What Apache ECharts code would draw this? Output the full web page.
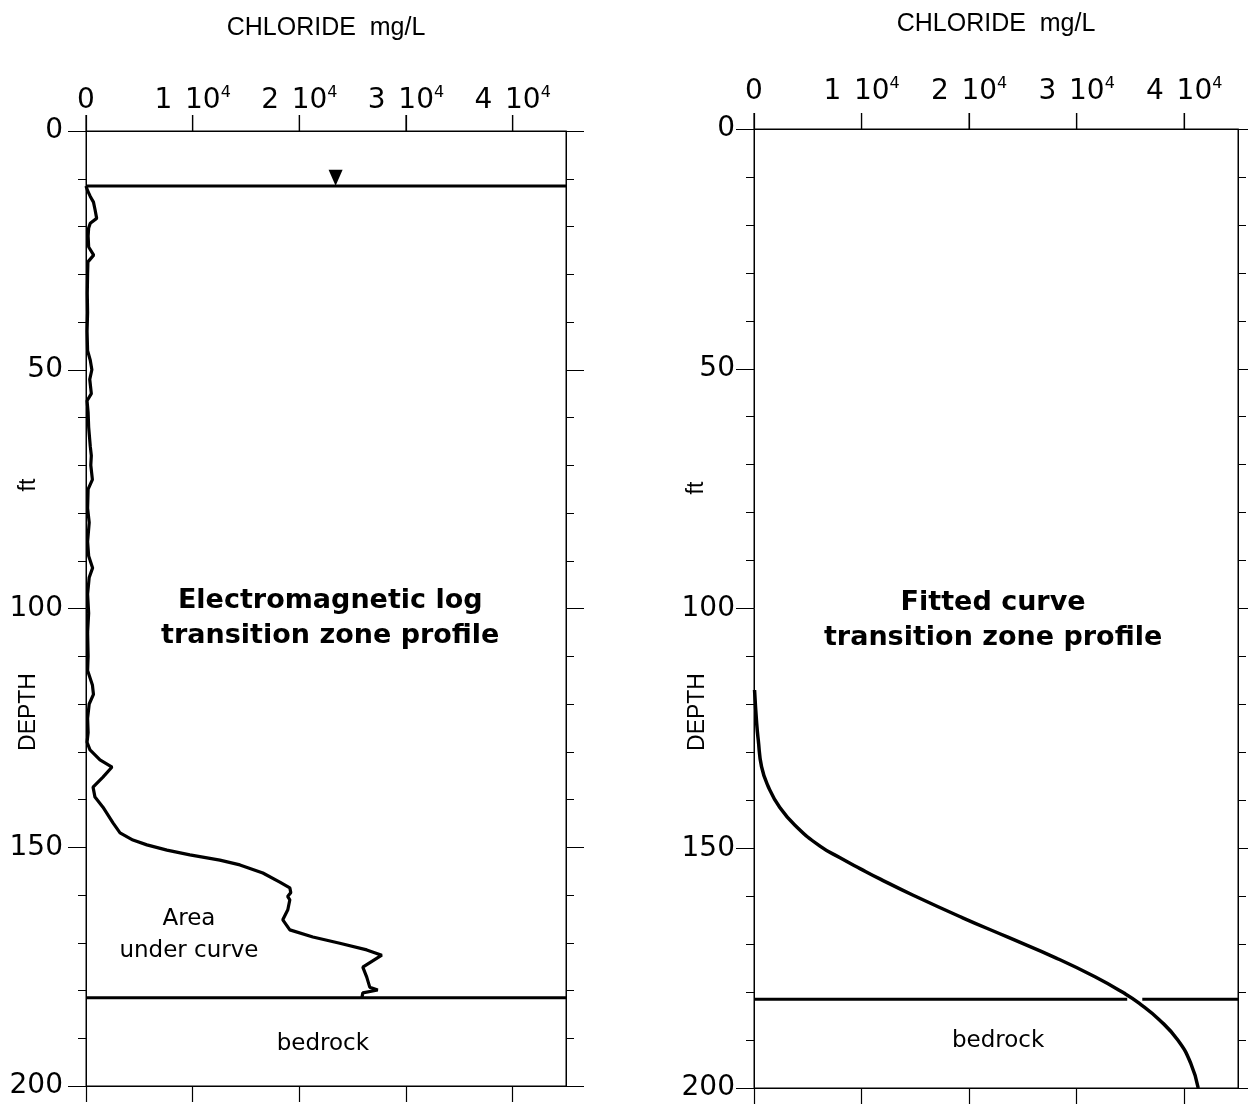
<!DOCTYPE html>
<html>
<head>
<meta charset="utf-8">
<script src="https://cdn.jsdelivr.net/npm/echarts@6.0.0/dist/echarts.min.js"></script>
<style>
  html, body { margin: 0; padding: 0; background: #fff; }
  #chart { width: 1248px; height: 1108px; }
</style>
</head>
<body>
<div id="chart"></div>
<script>
// Chloride vs depth: EM log profile (left) and fitted curve (right).
const depthTicks = [0, 50, 100, 150, 200];
const chlorideTicks = [0, 10000, 20000, 30000, 40000];
const chlorideMax = 45000;

const waterTableDepth = 11.5;
const waterTableMark = [23400, 9.8];
const bedrockDepth = 181.5;
const bedrockGap = [34700, 36100]; // break in the right bedrock line where the curve crosses

// Electromagnetic log
const emDepth = [
  11.5, 12.5, 13.7, 14.9, 16.5, 18.3, 19.3, 20.3, 22, 24.3, 26, 27.4, 30, 34, 38, 42, 46,
  48, 50, 52, 55, 56.5, 59, 62, 66, 68, 70, 73, 75, 79, 82, 86, 89, 91.5, 93.5, 97, 101,
  105, 110, 113, 116, 118, 120, 123, 126, 128, 129.6, 131.7, 133.2, 135.3, 137.4, 139.5,
  141.6, 144.9, 147.0, 148.5, 149.5, 150.6, 151.6, 152.7, 153.7, 155.4, 157.3, 158.5,
  159.5, 160.3, 161.0, 163.1, 165.2, 167.3, 168.8, 170.1, 171.5, 172.6, 175.1, 177.2,
  179.3, 179.9, 180.5, 181.6
];
const emChloride = [
  0, 150, 400, 700, 850, 1000, 400, 250, 200, 250, 720, 180, 150, 120, 150, 100, 150,
  400, 550, 350, 500, 100, 200, 250, 400, 500, 450, 600, 200, 150, 300, 150, 250, 620, 300, 150, 250,
  150, 200, 150, 600, 700, 300, 150, 200, 100, 375, 1310, 2440, 1590, 660, 840,
  1590, 2530, 3190, 4400, 5710, 7590, 9740, 12550, 14430, 16580, 18170, 19110,
  19200, 18900, 19110, 18920, 18450, 19110, 21270, 23790, 26320, 27730, 25950, 26320,
  26600, 27350, 25950, 25860
];

// Fitted curve
const fitDepth = [117, 124, 127.5, 133, 137, 141.5, 145.6, 149.5, 152, 154.3, 156.4, 159.8,
  164.5, 168.5, 172.9, 176.8, 180.2, 182.3, 185.8, 190, 194.8, 200];
const fitChloride = [50, 250, 400, 700, 1300, 2400, 4000, 6100, 8000, 9900, 11700, 14800,
  19400, 23550, 28100, 31700, 34400, 35800, 37700, 39400, 40600, 41300];

// Annotations: [chloride, depth, text]
const leftNotes = [
  [22900, 102, '{b|Electromagnetic log\ntransition zone profile}'],
  [9650, 168.4, '{r|Area\nunder curve}'],
  [22200, 191.2, '{r|bedrock}']
];
const rightNotes = [
  [22230, 102.4, '{b|Fitted curve\ntransition zone profile}'],
  [22700, 190.2, '{r|bedrock}']
];

const INK = '#000';
const numFont = 'DejaVu Sans';
const sansFont = 'Liberation Sans';

function pairs(xs, ys) { return xs.map((x, i) => [x, ys[i]]); }

function chlorideLabel(v) {
  if (!chlorideTicks.includes(v)) return '';
  return v === 0 ? '{m|0}' : `{m|${v / 10000}}{g| }{m|10}{s|4}`;
}

function xAxes(gridIndex, labelMargin, nameGap) {
  const base = {
    type: 'value', gridIndex, min: 0, max: chlorideMax, interval: 10000,
    splitLine: { show: false },
    axisLine: { show: true, onZero: false, lineStyle: { color: INK, width: 1 } },
    axisTick: { show: true, length: 16, customValues: chlorideTicks, lineStyle: { color: INK, width: 1.2 } }
  };
  return [
    Object.assign({}, base, {
      position: 'top',
      name: 'CHLORIDE  mg/L', nameLocation: 'middle', nameGap,
      nameTextStyle: { fontFamily: sansFont, fontSize: 25, color: INK },
      axisLabel: {
        show: true, margin: labelMargin, showMaxLabel: false,
        formatter: chlorideLabel,
        rich: {
          m: { fontFamily: numFont, fontSize: 28, color: INK, lineHeight: 32 },
          g: { fontFamily: numFont, fontSize: 40, color: INK, lineHeight: 32 },
          s: { fontFamily: numFont, fontSize: 16, color: INK, lineHeight: 16, verticalAlign: 'top' }
        }
      }
    }),
    Object.assign({}, base, {
      position: 'bottom', axisLabel: { show: false },
      axisTick: Object.assign({}, base.axisTick)
    })
  ];
}

function yAxes(gridIndex, labelMargin) {
  const base = {
    type: 'value', gridIndex, min: 0, max: 200, interval: 50, inverse: true,
    splitLine: { show: false },
    axisLine: { show: true, onZero: false, lineStyle: { color: INK, width: 1 } },
    axisTick: { show: true, length: 18, lineStyle: { color: INK, width: 1 } },
    minorTick: { show: true, splitNumber: 5, length: 8, lineStyle: { color: INK, width: 1 } }
  };
  return [
    Object.assign({}, base, {
      position: 'left',
      axisLabel: { show: true, margin: labelMargin, fontFamily: numFont, fontSize: 28, color: INK }
    }),
    Object.assign({}, base, { position: 'right', axisLabel: { show: false } })
  ];
}

// upward ticks on the top chloride axis, placed through the axis scale
function topTicks(xi, yi) {
  return {
    type: 'custom', xAxisIndex: xi, yAxisIndex: yi, silent: true, clip: false,
    data: chlorideTicks.map(v => [v, 0]),
    renderItem: (params, api) => {
      const p = api.coord([api.value(0), api.value(1)]);
      return {
        type: 'line',
        shape: { x1: p[0], y1: p[1], x2: p[0], y2: p[1] - 16 },
        style: { stroke: INK, lineWidth: 1.2 }
      };
    }
  };
}

function noteSeries(notes, xi, yi) {
  return {
    type: 'scatter', xAxisIndex: xi, yAxisIndex: yi, symbolSize: 0, silent: true,
    data: notes.map(n => ({ value: [n[0], n[1]], note: n[2] })),
    label: {
      show: true, position: 'inside', color: INK, opacity: 1,
      textBorderWidth: 0, textBorderColor: 'transparent',
      formatter: p => p.data.note,
      rich: {
        b: { fontFamily: numFont, fontWeight: 'bold', fontSize: 27, lineHeight: 35, color: INK, align: 'center', textBorderWidth: 0 },
        r: { fontFamily: numFont, fontSize: 23, lineHeight: 32, color: INK, align: 'center', textBorderWidth: 0 }
      }
    }
  };
}

const lineStyle = w => ({ color: INK, width: w });
const vText = (x, y, text) => ({
  type: 'text', x, y, rotation: Math.PI / 2,
  style: { text, font: '23px "Liberation Sans"', fill: INK, align: 'center', verticalAlign: 'middle' }
});

const option = {
  animation: false,
  backgroundColor: '#fff',
  grid: [
    { left: 86, top: 131, width: 480, height: 955, show: true, borderColor: INK, borderWidth: 1 },
    { left: 754, top: 129, width: 484, height: 959, show: true, borderColor: INK, borderWidth: 1 }
  ],
  xAxis: [...xAxes(0, 14, 90), ...xAxes(1, 21, 92)],
  yAxis: [...yAxes(0, 23), ...yAxes(1, 19)],
  graphic: [
    vText(29, 485, 'ft'),
    vText(29, 712, 'DEPTH'),
    vText(697, 488, 'ft'),
    vText(698, 712, 'DEPTH')
  ],
  series: [
    // left panel
    { type: 'line', xAxisIndex: 0, yAxisIndex: 0, showSymbol: false, silent: true,
      data: [[0, waterTableDepth], [chlorideMax, waterTableDepth]], lineStyle: lineStyle(3) },
    { type: 'line', xAxisIndex: 0, yAxisIndex: 0, showSymbol: false, silent: true,
      data: [[0, bedrockDepth], [chlorideMax, bedrockDepth]], lineStyle: lineStyle(3) },
    { type: 'line', xAxisIndex: 0, yAxisIndex: 0, showSymbol: false, silent: true,
      data: pairs(emChloride, emDepth), lineStyle: lineStyle(3.2) },
    { type: 'scatter', xAxisIndex: 0, yAxisIndex: 0, silent: true, symbol: 'triangle', symbolRotate: 180,
      symbolSize: [14, 16], itemStyle: { color: INK, opacity: 1 }, data: [waterTableMark] },
    noteSeries(leftNotes, 0, 0),
    topTicks(0, 0),
    // right panel
    { type: 'line', xAxisIndex: 2, yAxisIndex: 2, showSymbol: false, silent: true, connectNulls: false,
      data: [[0, bedrockDepth], [bedrockGap[0], bedrockDepth], null, [bedrockGap[1], bedrockDepth], [chlorideMax, bedrockDepth]],
      lineStyle: lineStyle(3) },
    { type: 'line', xAxisIndex: 2, yAxisIndex: 2, showSymbol: false, silent: true, smooth: 0.5,
      data: pairs(fitChloride, fitDepth), lineStyle: lineStyle(3.5) },
    noteSeries(rightNotes, 2, 2),
    topTicks(2, 2)
  ]
};

const chart = echarts.init(document.getElementById('chart'), null, { renderer: 'canvas' });
chart.setOption(option);
</script>
</body>
</html>
